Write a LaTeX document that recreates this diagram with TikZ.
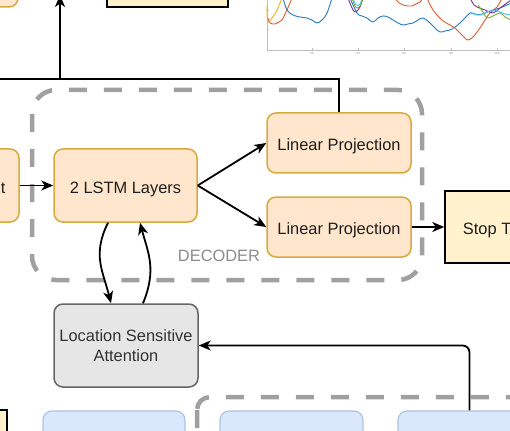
\documentclass[tikz,border=0pt]{standalone}
\usepackage{fontspec}
\setmainfont{Liberation Sans}
\usetikzlibrary{arrows.meta}
\definecolor{orfill}{RGB}{255,230,204}
\definecolor{ordraw}{RGB}{214,170,60}
\definecolor{yefill}{RGB}{255,242,204}
\definecolor{grfill}{RGB}{230,230,230}
\definecolor{grdraw}{RGB}{102,102,102}
\definecolor{blfill}{RGB}{218,232,252}
\definecolor{bldraw}{RGB}{175,195,225}
\definecolor{dashgray}{RGB}{160,160,160}
\definecolor{txtdark}{RGB}{30,30,30}
\definecolor{txtgray}{RGB}{50,50,50}
\definecolor{decgray}{RGB}{140,140,140}
\definecolor{axisgray}{RGB}{190,190,190}
\definecolor{cblue}{RGB}{40,120,190}
\definecolor{corange}{RGB}{217,95,45}
\definecolor{cyellow}{RGB}{237,177,32}
\definecolor{cpurple}{RGB}{126,47,142}
\definecolor{cgreen}{RGB}{119,172,48}
\definecolor{ccyan}{RGB}{77,190,238}
\begin{document}
\begin{tikzpicture}[x=1pt,y=-1pt,
  basebox/.style={rounded corners=9pt, line width=1.5pt, inner sep=0pt,
    font=\fontsize{16.4}{19.5}\selectfont, text height=15.2pt, text depth=0pt},
  orbox/.style={basebox, fill=orfill, draw=ordraw, text=txtdark},
  yebox/.style={basebox, rounded corners=0pt, fill=yefill, draw=black, text=txtdark},
  grbox/.style={basebox, fill=grfill, draw=grdraw, text=txtgray, align=center,
    text height=, text depth=},
  blbox/.style={basebox, fill=blfill, draw=bldraw, line width=1.2pt},
  dashbox/.style={draw=dashgray, line width=4.5pt, dash pattern=on 18pt off 17pt},
  conn/.style={draw=black, line width=1.8pt},
  arr/.style={conn, -{Stealth[length=12pt,width=10pt,inset=3.5pt]}},
  curve/.style={line width=0.9pt},
  tick/.style={font=\fontsize{3}{3}\selectfont, text=decgray, inner sep=0pt}
]
\clip (0,0) rectangle (510,430);
\fill[white] (0,0) rectangle (510,430);

% plot (top right)
\draw[axisgray, line width=0.5pt] (267,0) -- (267,50) -- (515,50);
\foreach \xx/\lab in {312/20,358/40,404/60,451/80,497/100}{
  \draw[axisgray, line width=0.4pt] (\xx,50) -- (\xx,48.5);
  \node[tick] at (\xx,53) {\lab};
}
\draw[axisgray, line width=0.4pt] (267,10) -- (268.5,10);
\draw[axisgray, line width=0.4pt] (267,29) -- (268.5,29);
\draw[cblue, curve] plot[smooth, tension=0.6] coordinates {(283,-2) (287,10) (293,15) (300,17) (307,18) (312,20) (317,23) (322,20) (327,13) (332,-2)};
\draw[cblue, curve] plot[smooth, tension=0.6] coordinates {(350,-2) (357,13) (362,16) (367,18) (373,22) (378,18) (383,16) (388,17) (393,20) (398,23) (403,25) (408,24) (413,23) (418,20) (423,18) (430,23) (435,28) (440,32) (445,31) (450,30) (455,27) (460,23) (465,18) (470,13) (475,14) (480,15) (487,12) (493,10) (500,8) (507,5) (512,3)};
\draw[corange, curve] plot[smooth, tension=0.6] coordinates {(268,18) (270,23) (275,24) (279,22) (282,20) (286,12) (290,3) (292,-2)};
\draw[corange, curve] plot[smooth, tension=0.6] coordinates {(395,-2) (399,3) (403,5) (408,6) (412,6) (416,4) (420,2) (423,-2)};
\draw[corange, curve] plot[smooth, tension=0.6] coordinates {(427,-2) (433,10) (442,20) (450,25) (455,28) (460,33) (465,38) (468,40) (473,37) (480,28) (485,20) (490,13) (497,7) (502,-2)};
\draw[cyellow, curve] plot[smooth, tension=0.6] coordinates {(267,6) (267,13) (268,22) (272,18) (277,10) (282,-2)};
\draw[cpurple, curve] plot[smooth, tension=0.6] coordinates {(348,-2) (352,8) (355,12) (358,10) (360,7) (363,-2)};
\draw[cpurple, curve] plot[smooth, tension=0.6] coordinates {(470,-2) (474,5) (477,7) (485,10) (493,13) (500,8) (507,3) (511,0)};
\draw[cgreen, curve] plot[smooth, tension=0.6] coordinates {(352,-2) (355,6) (358,8) (361,4) (363,-2)};
\draw[cgreen, curve] plot[smooth, tension=0.6] coordinates {(478,5) (483,12) (487,18) (493,16) (500,13) (505,17) (511,20)};
\draw[ccyan, curve] plot[smooth, tension=0.6] coordinates {(353,-2) (356,5) (360,4) (362,-2)};
\draw[ccyan, curve] plot[smooth, tension=0.6] coordinates {(470,12) (477,15) (485,13) (493,10) (500,12) (505,14) (511,15)};

% dashed groups
\draw[dashbox, rounded corners=24pt] (32,90) rectangle (422,280);
\draw[dashbox, rounded corners=13pt] (197,397) rectangle (640,640);
\node[font=\fontsize{16.4}{19.5}\selectfont, text=decgray, inner sep=0pt] (declabel) at (219,256) {DECODER};

% nodes
\node[orbox, minimum width=143pt, minimum height=60pt] (postnet) at (-53.5,-23) {};
\node[yebox, minimum width=121pt, minimum height=60pt] (mel) at (167.5,-23) {};
\node[orbox, minimum width=143pt, minimum height=73pt] (prenet) at (-52.5,185.5) {2 Layer Pre-Net};
\node[orbox, minimum width=143pt, minimum height=73pt] (lstm) at (125.5,185.5) {2 LSTM Layers};
\node[orbox, minimum width=144pt, minimum height=60pt] (lp1) at (339,143) {Linear Projection};
\node[orbox, minimum width=144pt, minimum height=60pt] (lp2) at (339,227) {Linear Projection};
\node[yebox, minimum width=118pt, minimum height=72pt] (stop) at (504,227) {Stop Token};
\node[grbox, minimum width=144pt, minimum height=83pt] (lsa) at (126,345.5) {Location Sensitive\\Attention};
\node[yebox, minimum width=120pt, minimum height=70pt] (inbox) at (-53,445) {};
\node[blbox, minimum width=142pt, minimum height=70pt] (enc1) at (114,446) {};
\node[blbox, minimum width=143pt, minimum height=70pt] (enc2) at (291.5,446) {};
\node[blbox, minimum width=143pt, minimum height=70pt] (enc3) at (469.5,446) {};

% connectors
\coordinate (leftend) at (-5,79);
\coordinate (split) at (60,79);
\coordinate (topend) at (60,-5);
\draw[conn] (lp1.north) |- (leftend);
\draw[arr] (split) -- (topend);
\draw[arr] (prenet.east) -- (lstm.west);
\draw[arr] (lstm.east) -- (lp1.west);
\draw[arr] (lstm.east) -- (lp2.west);
\draw[arr] (lp2.east) -- (stop.west);
\draw[arr] ([xshift=-17.5pt]lstm.south) .. controls +(-16,32) and +(-8,-32) .. ([xshift=-15pt]lsa.north);
\draw[arr] ([xshift=17pt]lsa.north) .. controls +(14,-34) and +(8,30) .. ([xshift=14.5pt]lstm.south);
\draw[arr, rounded corners=7pt] (enc3.north) |- (lsa.east);
\end{tikzpicture}
\end{document}
